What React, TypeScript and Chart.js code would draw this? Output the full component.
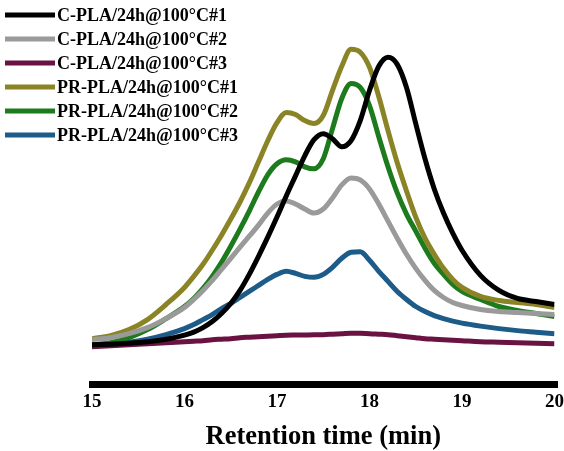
import React, { useEffect, useRef } from "react";
import { Chart, registerables } from "chart.js";

Chart.register(...registerables);

const retentionTime = [15.0, 15.2, 15.4, 15.6, 15.8, 16.0, 16.1, 16.2, 16.3, 16.4, 16.5, 16.6, 16.7, 16.8, 16.9, 17.0, 17.1, 17.2, 17.3, 17.4, 17.5, 17.6, 17.7, 17.8, 17.9, 18.0, 18.1, 18.2, 18.3, 18.4, 18.5, 18.6, 18.7, 18.8, 18.9, 19.0, 19.2, 19.4, 19.6, 19.8, 20.0];

const seriesNames = [
  "C-PLA/24h@100°C#1",
  "C-PLA/24h@100°C#2",
  "C-PLA/24h@100°C#3",
  "PR-PLA/24h@100°C#1",
  "PR-PLA/24h@100°C#2",
  "PR-PLA/24h@100°C#3",
];

const seriesColors = ["#000000", "#9a9a9a", "#6a1242", "#8a8426", "#1d7a1d", "#1d5b88"];

const cPla1 = [2, 2.5, 3.5, 5, 7.5, 11.5, 14.5, 19, 25, 33, 43, 56, 72, 90, 109, 129, 150, 170, 190, 206, 212, 207, 199, 205, 225, 255, 279, 288, 281, 258, 222, 187, 157, 133, 113, 96, 71, 56, 48, 45, 42];
const cPla2 = [7, 9, 13, 19, 28, 39, 47, 56, 66, 77, 88, 99, 110, 121, 133, 142, 145, 142, 137, 133, 137, 148, 161, 168, 166, 157, 142, 125, 108, 92, 78, 66, 56, 49, 44, 41, 37, 35, 34, 33, 32];
const cPla3 = [0, 1, 2, 3, 4, 5, 5.5, 6, 7, 7.5, 8, 9, 9.5, 10, 10.5, 11, 11.5, 11.6, 11.7, 11.8, 12, 12.5, 13, 13.5, 13.3, 13, 12.5, 12, 11, 10, 9, 8, 7.5, 7, 6.5, 6, 5, 4.5, 4, 3.5, 3];
const prPla1 = [8, 11, 17, 27, 42, 59, 70, 82, 96, 111, 127, 144, 163, 184, 205, 223, 233, 231, 225, 222, 230, 255, 279, 296, 293, 278, 249, 215, 183, 155, 129, 108, 92, 78, 67, 59, 50, 46, 44, 42, 39];
const prPla2 = [2, 4, 9, 17, 28, 40, 48, 58, 70, 84, 100, 117, 135, 154, 171, 182, 186, 184, 179, 177, 187, 217, 247, 262, 258, 240, 209, 179, 153, 132, 115, 98, 83, 72, 62, 55, 47, 40, 36, 33, 30];
const prPla3 = [1, 2.5, 4.5, 7.5, 12, 18, 22, 27, 32, 38, 43, 49, 55, 61, 67, 72, 75, 73, 70, 69, 72, 79, 88, 94, 94.5, 86, 75, 65, 55, 47, 40, 35, 31, 28, 25.5, 23.5, 20.5, 18, 16, 14.5, 13];

const allSeries = [cPla1, cPla2, cPla3, prPla1, prPla2, prPla3];

const xTicks = [15, 16, 17, 18, 19, 20];
const xTitle = "Retention time (min)";

const FONT = '"Liberation Serif", "Times New Roman", serif';

const legendPlugin = {
  id: "customLegend",
  afterDraw(chart: any) {
    const ctx = chart.ctx;
    ctx.save();
    ctx.font = `bold 18px ${FONT}`;
    ctx.textBaseline = "middle";
    ctx.textAlign = "left";
    chart.data.datasets.forEach((ds: any, i: number) => {
      const y = 15 + i * 24;
      ctx.strokeStyle = ds.borderColor;
      ctx.lineWidth = 5;
      ctx.lineCap = "butt";
      ctx.beginPath();
      ctx.moveTo(5, y);
      ctx.lineTo(55, y);
      ctx.stroke();
      ctx.fillStyle = "#000";
      ctx.fillText(ds.label, 57, y + 1);
    });
    ctx.restore();
  },
};

export default function App() {
  const ref = useRef<HTMLCanvasElement | null>(null);
  useEffect(() => {
    document.body.style.margin = "0";
    if (!ref.current) return;
    const chart = new Chart(ref.current, {
      type: "line",
      data: {
        datasets: allSeries.map((s, i) => ({
          label: seriesNames[i],
          data: retentionTime.map((t, j) => ({ x: t, y: s[j] })),
          borderColor: seriesColors[i],
          backgroundColor: seriesColors[i],
          borderWidth: 5,
          pointRadius: 0,
          cubicInterpolationMode: "monotone" as const,
          fill: false,
        })),
      },
      options: {
        responsive: false,
        animation: false,
        layout: { padding: { left: 92, right: 9.5, top: 0, bottom: 0 } },
        plugins: { legend: { display: false }, tooltip: { enabled: false } },
        scales: {
          x: {
            type: "linear",
            min: 15,
            max: 20,
            grid: { display: false, drawTicks: false, lineWidth: 7 },
            border: { display: true, color: "#000", width: 7 },
            afterBuildTicks: (axis: any) => {
              axis.ticks = xTicks.map((v) => ({ value: v }));
            },
            afterFit: (axis: any) => {
              axis.paddingLeft = 0;
              axis.paddingRight = 0;
            },
            ticks: {
              color: "#000",
              padding: 6,
              font: { family: FONT, size: 19, weight: "bold" },
              callback: (v: any) => String(v),
            },
            title: {
              display: true,
              text: xTitle,
              color: "#000",
              padding: { top: 2, bottom: -2 },
              font: { family: FONT, size: 26.5, weight: "bold" },
            },
          },
          y: {
            type: "linear",
            display: false,
            min: -37.5,
            max: 345,
          },
        },
      },
      plugins: [legendPlugin],
    });
    return () => chart.destroy();
  }, []);
  return (
    <div style={{ position: "absolute", left: 0, top: 0, width: 564, height: 451, background: "#fff" }}>
      <canvas ref={ref} width={564} height={451} />
    </div>
  );
}
